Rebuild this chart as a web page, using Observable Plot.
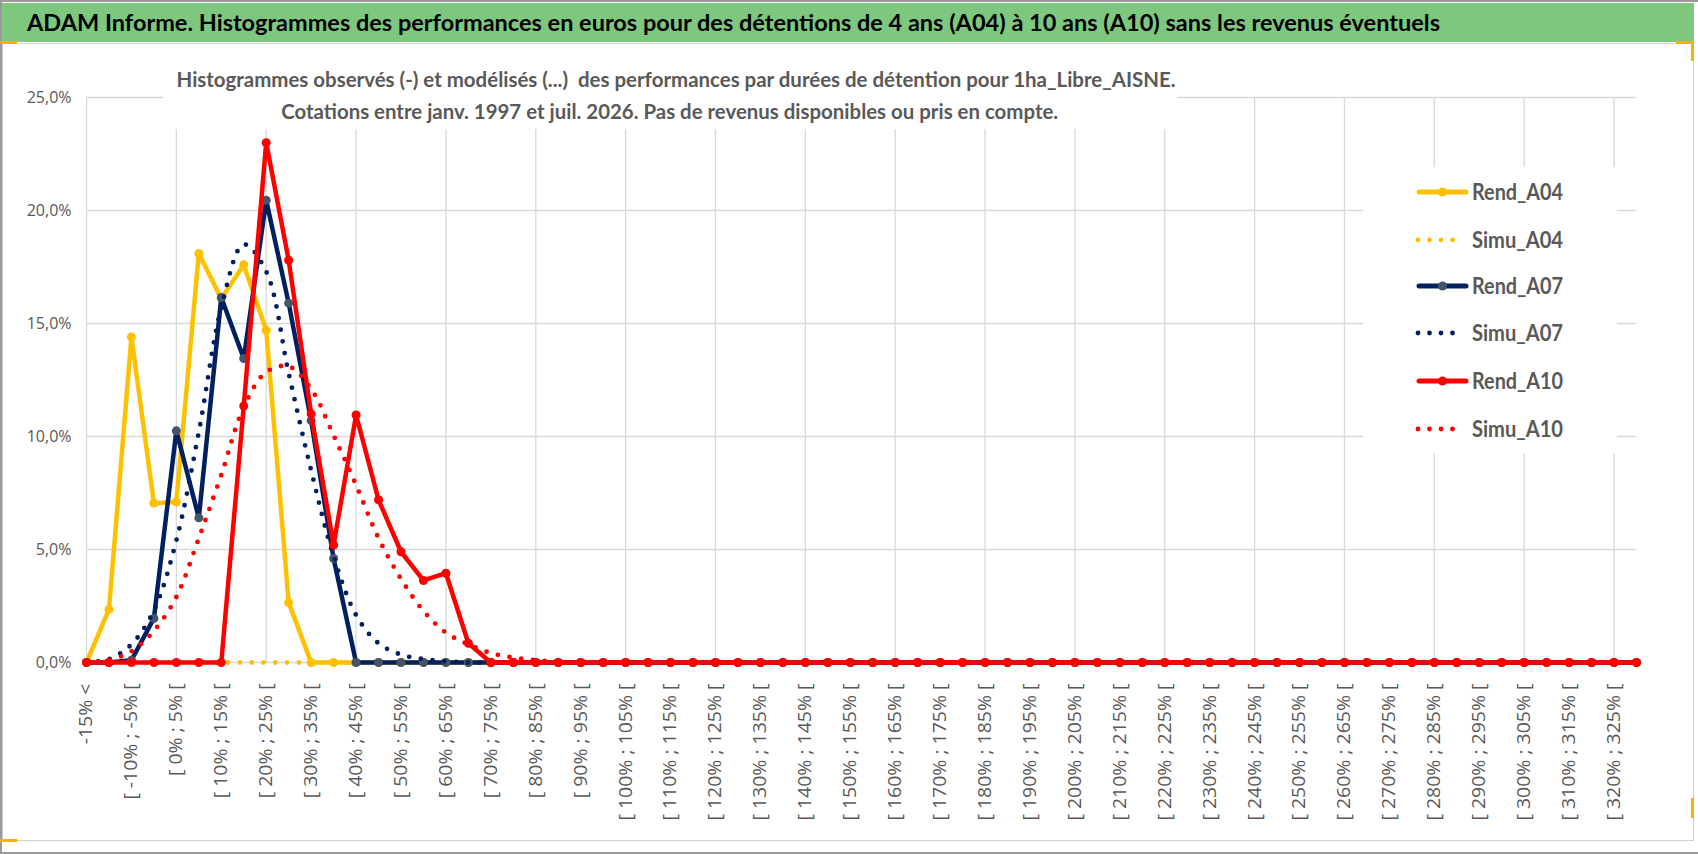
<!DOCTYPE html>
<html>
<head>
<meta charset="utf-8">
<script src="https://cdn.jsdelivr.net/npm/d3@7"></script>
<script src="https://cdn.jsdelivr.net/npm/@observablehq/plot@0.6"></script>
<style>
  html, body { margin: 0; padding: 0; background: #fff; overflow: hidden; }
  #wrap { position: relative; width: 1698px; height: 854px; overflow: hidden; }
  #chart { position: absolute; left: 0; top: 0; }
  .abs { position: absolute; }
  .fit { display: inline-block; white-space: pre; }
</style>
</head>
<body>
<div id="wrap">
  <div id="chart"></div>
</div>
<script>
// ---------- DATA ----------
const categories = [
  "-15% <", "[ -15% ; -10% [", "[ -10% ; -5% [", "[ -5% ; 0% [", "[ 0% ; 5% [",
  "[ 5% ; 10% [", "[ 10% ; 15% [", "[ 15% ; 20% [", "[ 20% ; 25% [", "[ 25% ; 30% [",
  "[ 30% ; 35% [", "[ 35% ; 40% [", "[ 40% ; 45% [", "[ 45% ; 50% [", "[ 50% ; 55% [",
  "[ 55% ; 60% [", "[ 60% ; 65% [", "[ 65% ; 70% [", "[ 70% ; 75% [", "[ 75% ; 80% [",
  "[ 80% ; 85% [", "[ 85% ; 90% [", "[ 90% ; 95% [", "[ 95% ; 100% [", "[ 100% ; 105% [",
  "[ 105% ; 110% [", "[ 110% ; 115% [", "[ 115% ; 120% [", "[ 120% ; 125% [", "[ 125% ; 130% [",
  "[ 130% ; 135% [", "[ 135% ; 140% [", "[ 140% ; 145% [", "[ 145% ; 150% [", "[ 150% ; 155% [",
  "[ 155% ; 160% [", "[ 160% ; 165% [", "[ 165% ; 170% [", "[ 170% ; 175% [", "[ 175% ; 180% [",
  "[ 180% ; 185% [", "[ 185% ; 190% [", "[ 190% ; 195% [", "[ 195% ; 200% [", "[ 200% ; 205% [",
  "[ 205% ; 210% [", "[ 210% ; 215% [", "[ 215% ; 220% [", "[ 220% ; 225% [", "[ 225% ; 230% [",
  "[ 230% ; 235% [", "[ 235% ; 240% [", "[ 240% ; 245% [", "[ 245% ; 250% [", "[ 250% ; 255% [",
  "[ 255% ; 260% [", "[ 260% ; 265% [", "[ 265% ; 270% [", "[ 270% ; 275% [", "[ 275% ; 280% [",
  "[ 280% ; 285% [", "[ 285% ; 290% [", "[ 290% ; 295% [", "[ 295% ; 300% [", "[ 300% ; 305% [",
  "[ 305% ; 310% [", "[ 310% ; 315% [", "[ 315% ; 320% [", "[ 320% ; 325% [", "[ 325% ; 330% ["
];

const rendA04 = [
  0, 2.35, 14.4, 7.05, 7.1, 18.1, 16.1, 17.6, 14.7, 2.65,
  0, 0, 0, 0, 0, 0, 0, 0, 0, 0,
  0, 0, 0, 0, 0, 0, 0, 0, 0, 0,
  0, 0, 0, 0, 0, 0, 0, 0, 0, 0,
  0, 0, 0, 0, 0, 0, 0, 0, 0, 0,
  0, 0, 0, 0, 0, 0, 0, 0, 0, 0,
  0, 0, 0, 0, 0, 0, 0, 0, 0, 0
];
const simuA04 = [
  0, 0, 0, 0, 0, 0, 0, 0, 0, 0,
  0, 0, 0, 0, 0, 0, 0, 0, 0, 0,
  0, 0, 0, 0, 0, 0, 0, 0, 0, 0,
  0, 0, 0, 0, 0, 0, 0, 0, 0, 0,
  0, 0, 0, 0, 0, 0, 0, 0, 0, 0,
  0, 0, 0, 0, 0, 0, 0, 0, 0, 0,
  0, 0, 0, 0, 0, 0, 0, 0, 0, 0
];
const rendA07 = [
  0, 0, 0.1, 1.95, 10.25, 6.4, 16.15, 13.45, 20.45, 15.9,
  10.7, 4.6, 0, 0, 0, 0, 0, 0, 0, 0,
  0, 0, 0, 0, 0, 0, 0, 0, 0, 0,
  0, 0, 0, 0, 0, 0, 0, 0, 0, 0,
  0, 0, 0, 0, 0, 0, 0, 0, 0, 0,
  0, 0, 0, 0, 0, 0, 0, 0, 0, 0,
  0, 0, 0, 0, 0, 0, 0, 0, 0, 0
];
const simuA07 = [
  0, 0.15, 0.8, 2.3, 5.4, 10.2, 15.7, 18.5, 17.3, 12.8,
  8.5, 4.7, 2.1, 0.85, 0.35, 0.15, 0.05, 0, 0, 0,
  0, 0, 0, 0, 0, 0, 0, 0, 0, 0,
  0, 0, 0, 0, 0, 0, 0, 0, 0, 0,
  0, 0, 0, 0, 0, 0, 0, 0, 0, 0,
  0, 0, 0, 0, 0, 0, 0, 0, 0, 0,
  0, 0, 0, 0, 0, 0, 0, 0, 0, 0
];
const rendA10 = [
  0, 0, 0, 0, 0, 0, 0, 11.35, 23.0, 17.8,
  11.0, 5.2, 10.95, 7.2, 4.9, 3.63, 3.95, 0.85, 0, 0,
  0, 0, 0, 0, 0, 0, 0, 0, 0, 0,
  0, 0, 0, 0, 0, 0, 0, 0, 0, 0,
  0, 0, 0, 0, 0, 0, 0, 0, 0, 0,
  0, 0, 0, 0, 0, 0, 0, 0, 0, 0,
  0, 0, 0, 0, 0, 0, 0, 0, 0, 0
];
const simuA10 = [
  0, 0.1, 0.5, 1.4, 2.9, 5.5, 8.3, 11.3, 12.85, 13.1,
  12.1, 10.05, 7.85, 5.5, 3.7, 2.28, 1.32, 0.8, 0.42, 0.22,
  0.1, 0.03, 0, 0, 0, 0, 0, 0, 0, 0,
  0, 0, 0, 0, 0, 0, 0, 0, 0, 0,
  0, 0, 0, 0, 0, 0, 0, 0, 0, 0,
  0, 0, 0, 0, 0, 0, 0, 0, 0, 0,
  0, 0, 0, 0, 0, 0, 0, 0, 0, 0
];

const yTicks = [0, 5, 10, 15, 20, 25];
const xTickLabels = categories.filter((d, i) => i % 2 === 0);
const xGrid = categories.filter((d, i) => i % 4 === 0);

const seriesNames = ["Rend_A04", "Simu_A04", "Rend_A07", "Simu_A07", "Rend_A10", "Simu_A10"];
const seriesColors = ["#FFC000", "#FFC000", "#002060", "#002060", "#FF0000", "#FF0000"];
const markerColors = ["#FFC000", null, "#44546A", null, "#FF0000", null];

const titleText = "ADAM Informe. Histogrammes des performances en euros pour des détentions de 4 ans (A04) à 10 ans (A10) sans les revenus éventuels";
const subLine1 = "Histogrammes observés (-) et modélisés (...)  des performances par durées de détention pour 1ha_Libre_AISNE.";
const subLine2 = "Cotations entre janv. 1997 et juil. 2026. Pas de revenus disponibles ou pris en compte.";

// ---------- PLOT ----------
const allSeries = [rendA04, simuA04, rendA07, simuA07, rendA10, simuA10];
const rows = vals => categories.map((c, i) => ({c, v: vals[i]}));

const marks = [
  Plot.ruleY(yTicks, {y: d => d, stroke: "#d9d9d9", strokeWidth: 1.3}),
  Plot.ruleX(xGrid, {x: d => d, stroke: "#d9d9d9", strokeWidth: 1.3}),
  Plot.axisY(yTicks, {tickSize: 0, tickPadding: 15, fontSize: 16, fill: "#595959",
    tickFormat: d => d.toFixed(1).replace(".", ",") + "%", label: null}),
  Plot.axisX(xTickLabels, {tickSize: 0, tickPadding: 21, tickRotate: -90, fontSize: 18.5,
    fill: "#595959", label: null})
];
allSeries.forEach((vals, k) => {
  const isSimu = k % 2 === 1;
  if (isSimu) {
    marks.push(Plot.line(rows(vals), {x: "c", y: "v", stroke: seriesColors[k], strokeWidth: 4.8,
      strokeDasharray: "0 11.8", strokeLinecap: "round", curve: "catmull-rom"}));
  } else {
    marks.push(Plot.line(rows(vals), {x: "c", y: "v", stroke: seriesColors[k], strokeWidth: 4.5,
      strokeLinejoin: "round", strokeLinecap: "round"}));
    marks.push(Plot.dot(rows(vals), {x: "c", y: "v", r: 4.5, fill: markerColors[k], stroke: "none"}));
  }
});

const chart = Plot.plot({
  width: 1698, height: 854,
  marginLeft: 86, marginRight: 62, marginTop: 97, marginBottom: 192,
  style: {fontFamily: "'Open Sans', sans-serif", background: "transparent", overflow: "visible"},
  x: {type: "point", domain: categories, padding: 0, axis: null},
  y: {domain: [0, 25], axis: null},
  marks
});
document.getElementById("chart").appendChild(chart);

// stretch x tick labels to the reference length ("[ 100% ; 105% [" ≈ 137px, "-15% <" ≈ 62px)
(function () {
  const labelSet = new Set(xTickLabels);
  const texts = Array.from(chart.querySelectorAll("text")).filter(t => labelSet.has(t.textContent));
  const ref = texts.find(t => t.textContent === "[ 100% ; 105% [");
  if (ref) {
    const f = 137 / ref.getComputedTextLength();
    texts.forEach(t => {
      const L = t.getComputedTextLength();
      t.setAttribute("textLength", (L * f).toFixed(1));
      t.setAttribute("lengthAdjust", "spacingAndGlyphs");
    });
  }
})();

// ---------- DECORATIONS (Excel-like frame, title band, subtitle, legend) ----------
const wrap = document.getElementById("wrap");
function addDiv(css, html) {
  const d = document.createElement("div");
  d.className = "abs";
  d.style.cssText = css;
  if (html !== undefined) d.innerHTML = html;
  wrap.appendChild(d);
  return d;
}
addDiv("left:0;top:0;width:1698px;height:2px;background:#9a9a9a;");
addDiv("left:0;top:0;width:2px;height:854px;background:#9a9a9a;");
addDiv("left:0;top:852px;width:1698px;height:2px;background:#9a9a9a;");
addDiv("left:2px;top:43px;width:1692px;height:798px;border:1px solid #d0d0d0;box-sizing:border-box;");
const band = addDiv("left:2px;top:3px;width:1692px;height:39px;background:#7ec77f;");
const title = document.createElement("span");
title.className = "fit";
title.textContent = titleText;
title.style.cssText = "position:absolute;left:25px;top:0;line-height:39px;font-family:Lato,sans-serif;font-weight:700;font-size:23.5px;color:#000;";
band.appendChild(title);
const sub = addDiv("left:163px;top:63px;width:1014px;height:66px;background:#fff;text-align:center;font-family:Lato,sans-serif;font-weight:700;font-size:21px;line-height:32px;color:#595959;");
const s1 = document.createElement("div"); const s1s = document.createElement("span");
s1s.className = "fit"; s1s.textContent = subLine1; s1.appendChild(s1s); sub.appendChild(s1);
const s2 = document.createElement("div"); const s2s = document.createElement("span");
s2s.className = "fit"; s2s.textContent = subLine2; s2.appendChild(s2s); sub.appendChild(s2);
function fitWidth(el, target, origin) {
  const w = el.getBoundingClientRect().width;
  if (w > 0) { el.style.transformOrigin = origin; el.style.transform = `scaleX(${target / w})`; }
}
fitWidth(title, 1413, "0 50%");
fitWidth(s1s, 999, "50% 50%");
fitWidth(s2s, 777, "50% 50%");

// legend
const NS = "http://www.w3.org/2000/svg";
const leg = document.createElementNS(NS, "svg");
leg.setAttribute("width", 254); leg.setAttribute("height", 286);
leg.style.cssText = "position:absolute;left:1363px;top:167px;background:#fff;";
wrap.appendChild(leg);
const rowY = [25, 73, 119, 166, 214, 262];
seriesNames.forEach((name, k) => {
  const y = rowY[k];
  const ln = document.createElementNS(NS, "line");
  const isSimu = k % 2 === 1;
  ln.setAttribute("y1", y); ln.setAttribute("y2", y);
  ln.setAttribute("stroke", seriesColors[k]);
  ln.setAttribute("stroke-linecap", "round");
  if (isSimu) {
    ln.setAttribute("x1", 55); ln.setAttribute("x2", k === 5 ? 101 : 90);
    ln.setAttribute("stroke-width", 4.8);
    ln.setAttribute("stroke-dasharray", "0 11.5");
  } else {
    ln.setAttribute("x1", 56); ln.setAttribute("x2", 103);
    ln.setAttribute("stroke-width", 5);
  }
  leg.appendChild(ln);
  if (!isSimu) {
    const c = document.createElementNS(NS, "circle");
    c.setAttribute("cx", 79.5); c.setAttribute("cy", y); c.setAttribute("r", 4.5);
    c.setAttribute("fill", markerColors[k]);
    leg.appendChild(c);
  }
  const t = document.createElementNS(NS, "text");
  t.setAttribute("x", 109); t.setAttribute("y", y);
  t.setAttribute("dy", "0.36em");
  t.setAttribute("fill", "#595959");
  t.setAttribute("font-family", "Lato, sans-serif");
  t.setAttribute("font-weight", "700");
  t.setAttribute("font-size", "22.5");
  t.setAttribute("textLength", "91");
  t.setAttribute("lengthAdjust", "spacingAndGlyphs");
  t.textContent = name;
  leg.appendChild(t);
});

addDiv("left:0;top:41px;width:17px;height:3px;background:#f2b600;");
addDiv("left:1676px;top:41px;width:18px;height:3px;background:#f2b600;");
addDiv("left:1691px;top:41px;width:3px;height:20px;background:#f2b600;");
addDiv("left:1691px;top:798px;width:3px;height:20px;background:#f2b600;");
addDiv("left:0;top:839px;width:17px;height:3px;background:#f2b600;");
</script>
</body>
</html>
